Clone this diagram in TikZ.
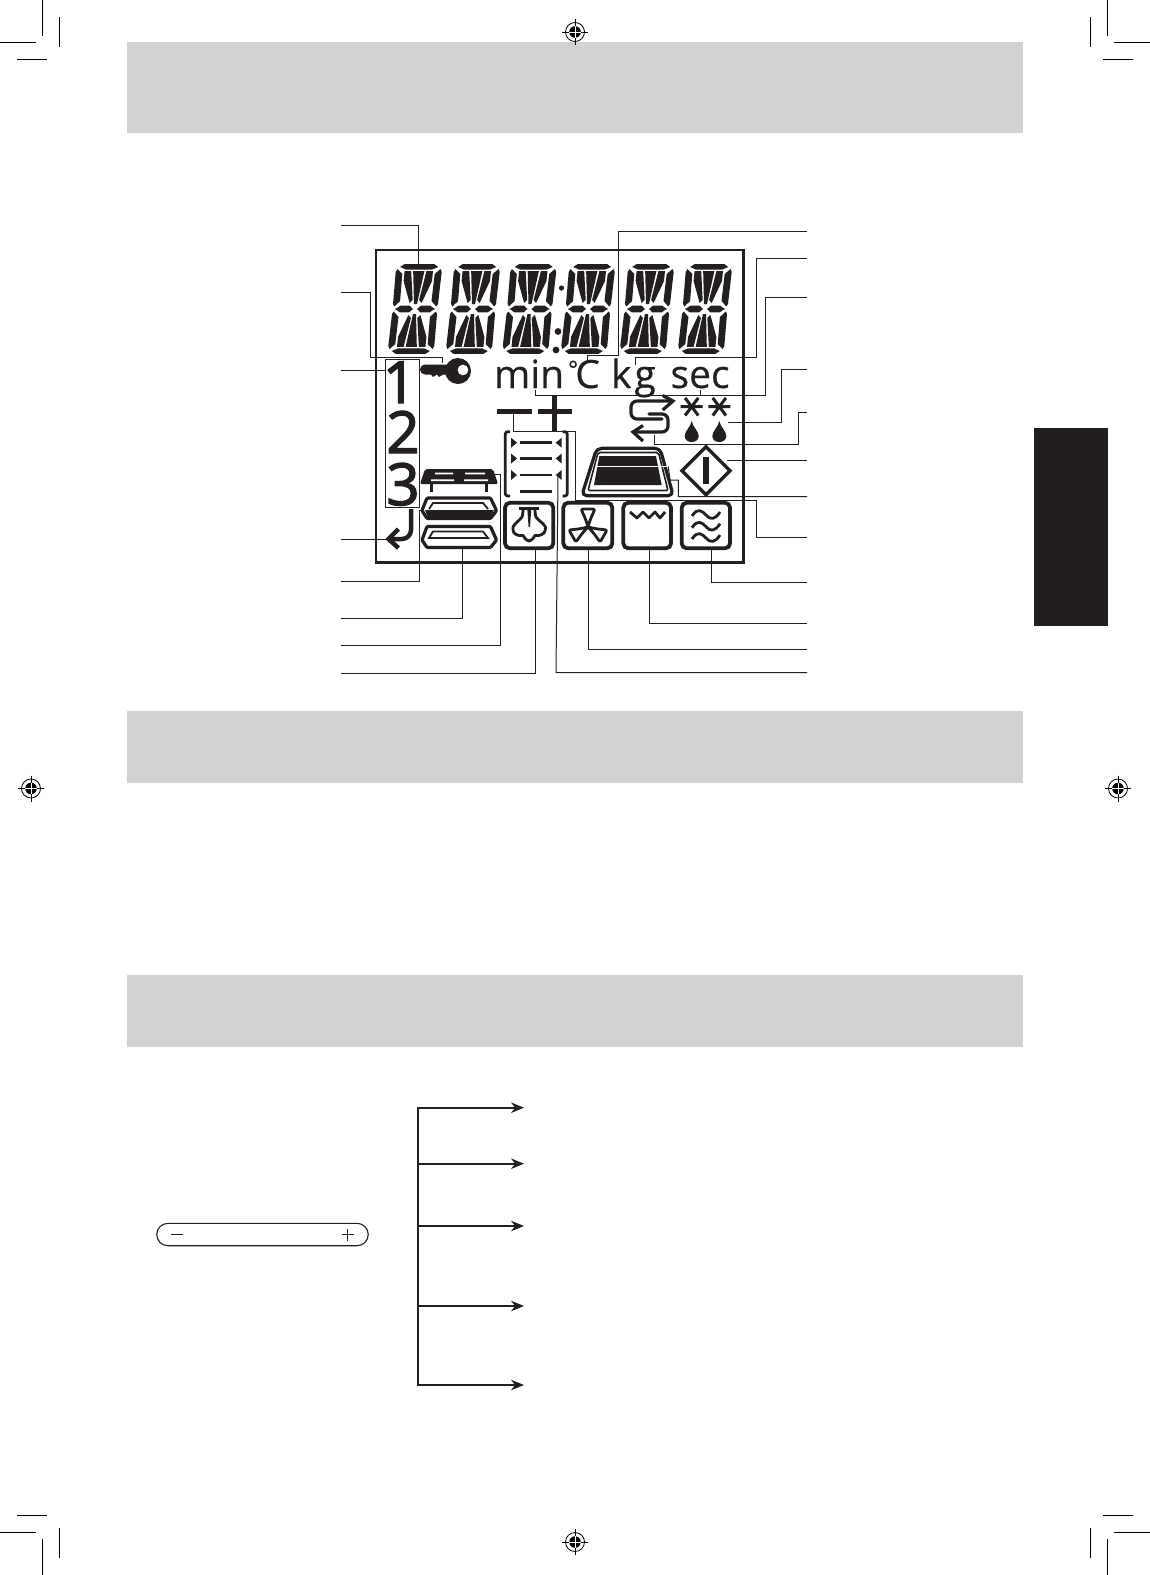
\documentclass[tikz,border=0pt]{standalone}
\usepackage{fontspec}
\setmainfont[FakeBold=0.35]{Open Sans}
\newfontfamily\numfont{Open Sans}[FakeBold=2.4]
\usetikzlibrary{arrows.meta,shapes.misc}
\definecolor{bandgrey}{HTML}{D2D2D2}
\definecolor{inkblk}{HTML}{231F20}
\tikzset{
  x=1pt,y=-1pt,
  band/.style={fill=bandgrey,draw=none},
  crop/.style={line width=1pt,draw=black},
  leader/.style={line width=1pt,draw=inkblk,line join=miter},
  icon/.style={line width=3.2pt,draw=inkblk,line join=round},
  thinicon/.style={line width=2.8pt,draw=inkblk,line join=round},
  roundbox/.style={line width=3.8pt,draw=inkblk,rounded corners=5pt},
  branch/.style={line width=1.8pt,draw=inkblk,-{Stealth[length=13pt,width=10.5pt]}},
  lcdlabel/.style={anchor=base west,inner sep=0pt,outer sep=0pt,text=inkblk,font=\fontsize{39}{39}\selectfont},
  lcdnum/.style={anchor=base,inner sep=0pt,outer sep=0pt,text=inkblk,font=\numfont\fontsize{58}{58}\selectfont},
}
\newcommand{\lcdquarter}{%
  \fill[inkblk] (-0.3,-44.8)--(15,-44.8)--(19,-42)--(13,-39.4)--(-0.3,-39.4)--cycle;
  \fill[inkblk] (21.5,-40)--(23,-37)--(22.5,-5)--(21,-2.5)--(15.7,-8)--(16.2,-35)--cycle;
  \fill[inkblk] (7.6,-37.8)--(14.2,-37.8)--(14.2,-28)--(6,-6)--(3.2,-9)--cycle;
  \fill[inkblk] (-0.3,-37.8)--(5.6,-37.8)--(1.5,-5)--(-0.3,-5)--cycle;
  \fill[inkblk] (20,0.3)--(15,-3.3)--(5.5,-3.3)--(2,0.3)--cycle;
}
\newcommand{\lcddigit}[1]{%
  \begin{scope}[shift={(415,309)},xshift=#1,xslant=0.1]
    \lcdquarter
    \begin{scope}[xscale=-1]\lcdquarter\end{scope}
    \begin{scope}[yscale=-1]\lcdquarter\end{scope}
    \begin{scope}[xscale=-1,yscale=-1]\lcdquarter\end{scope}
  \end{scope}}
\newcommand{\regmark}[2]{%
  \begin{scope}[shift={(#1,#2)}]
    \draw[line width=.8pt] (0,0) circle[radius=9.5];
    \fill (0,0) circle[radius=5.8];
    \draw[line width=.8pt] (-13,0)--(13,0) (0,-13)--(0,13);
    \draw[white,line width=.9pt] (-5.8,0)--(5.8,0) (0,-5.8)--(0,5.8);
  \end{scope}}
\newcommand{\fanblade}{%
  \draw[thinicon,rounded corners=2pt] (0,0)--(-2.5,-8)--(-7,-18)--(7,-18)--(2.5,-8)--cycle;}
\newcommand{\lcdwave}[1]{%
  \draw[thinicon] (692,#1+1) .. controls (698,#1-8) and (702,#1-4) .. (706,#1) .. controls (710,#1+5) and (715,#1+5) .. (720,#1-3);}
\newcommand{\lcdstar}[2]{%
  \begin{scope}[shift={(#1,#2)}]
    \draw[line width=3pt,draw=inkblk] (-11,0)--(11,0) (-6.6,-8.8)--(6.6,8.8) (6.6,-8.8)--(-6.6,8.8);
  \end{scope}}
\newcommand{\lcddrop}[2]{%
  \fill[inkblk] (#1,#2-12) .. controls (#1+1,#2-6) and (#1+7,#2-2) .. (#1+7,#2+3) .. controls (#1+7,#2+11) and (#1-7,#2+11) .. (#1-7,#2+3) .. controls (#1-7,#2-2) and (#1-1,#2-6) .. (#1,#2-12) -- cycle;}
\newcommand{\triright}[2]{\fill[inkblk] (#1,#2-5)--(#1+6,#2)--(#1,#2+5)--cycle;}
\newcommand{\trileft}[2]{\fill[inkblk] (#1,#2-5)--(#1-6,#2)--(#1,#2+5)--cycle;}
\begin{document}
\begin{tikzpicture}
\useasboundingbox (0,0) rectangle (1150,1575);
\fill[white] (0,0) rectangle (1150,1575);
% bands and tab
\fill[band] (127,42) rectangle (1023,133);
\fill[band] (127,711) rectangle (1023,782.5);
\fill[band] (127,974.5) rectangle (1023,1046.5);
\fill[inkblk] (1033.5,428) rectangle (1108,626);
% crop marks
\draw[crop] (42.5,0)--(42.5,36) (0,42.5)--(36,42.5) (59.5,17)--(59.5,47) (17,59.5)--(47,59.5);
\draw[crop] (1107.5,0)--(1107.5,36) (1150,42.5)--(1114,42.5) (1090.5,17)--(1090.5,47) (1133,59.5)--(1103,59.5);
\draw[crop] (42.5,1575)--(42.5,1539) (0,1532.5)--(36,1532.5) (59.5,1558)--(59.5,1528) (17,1515.5)--(47,1515.5);
\draw[crop] (1107.5,1575)--(1107.5,1539) (1150,1532.5)--(1114,1532.5) (1090.5,1558)--(1090.5,1528) (1133,1515.5)--(1103,1515.5);
\regmark{575}{32}\regmark{31}{788.5}\regmark{1118}{788.5}\regmark{575}{1542}
% LCD frame
\draw[line width=2.6pt,draw=inkblk] (376,250) rectangle (743.5,562.7);
% digits
\foreach \dd in {0pt,58pt,114.5pt,173pt,232pt,290pt}{\lcddigit{\dd}}
\fill[inkblk] (561.5,288) circle[radius=2.6] (558,331.5) circle[radius=3.4] (556,350) circle[radius=3.4];
% text
\node[lcdlabel] (tmin) at (494,388) {min};
\node[lcdlabel] (tc) at (568,388) {\raisebox{10pt}{\fontsize{24}{24}\selectfont °}\kern-3pt C};
\node[lcdlabel] (tkg) at (611,388) {k\kern3pt g};
\node[lcdlabel] (tsec) at (670.5,388) {sec};
\node[lcdnum] (n1) at (399.5,403) {1};
\node[lcdnum] (n2) at (403,453) {2};
\node[lcdnum] (n3) at (403,505) {3};
\draw[leader] (385.5,359.3) rectangle (419.3,507.3);
% key
\fill[inkblk,even odd rule] (458,371) circle[radius=13] (463,370) circle[radius=5.5];
\fill[inkblk] (447,364.5)--(425,364.5) arc[start angle=270,end angle=90,radius=5] --(431,374.5)--(433,377)--(437,374.5)--(439,377)--(443,374.5)--(447,374.5)--cycle;
% return arrow
\draw[line width=4.5pt,draw=inkblk,rounded corners=9pt] (411,509)--(411,539)--(391,539);
\draw[line width=4.5pt,draw=inkblk,line join=miter] (398.5,529)--(388.5,539)--(398.5,548);
% tray A
\fill[inkblk,rounded corners=2pt] (425,469)--(493,469)--(498,484)--(420,484)--cycle;
\fill[white] (435,472.5) rectangle (453,474.3) (465,472.5) rectangle (485,474.3) (431,479.3) rectangle (454,481) (464,479.3) rectangle (488,481);
\draw[line width=2.6pt,draw=inkblk] (431.7,484)--(431.7,492) (486.7,484)--(486.7,492);
% tray B
\draw[icon,rounded corners=1pt] (427,498)--(490.5,498)--(496.5,510.5)--(490.5,518.5)--(427,518.5)--(422,510.5)--cycle;
\fill[inkblk] (425,510)--(494,510)--(490,518)--(428,518)--cycle;
\draw[line width=1.8pt,draw=inkblk] (429,509)--(433,503)--(483,503)--(488,509);
% tray C
\draw[icon,rounded corners=1pt] (427,526.5)--(490.5,526.5)--(496.5,540)--(490.5,547.5)--(427,547.5)--(422,540)--cycle;
\draw[line width=1.8pt,draw=inkblk] (429,538)--(433,531.5)--(483,531.5)--(488,538)--cycle;
% minus plus
\draw[line width=4.6pt,draw=inkblk] (496.7,411.7)--(531.7,411.7) (538,411.7)--(572,411.7) (554.3,395)--(554.3,431);
% bracket
\draw[thinicon,rounded corners=2.5pt] (510,431.7)--(505.2,431.7)--(505.2,496)--(510,496);
\draw[thinicon,rounded corners=2.5pt] (562.5,431.7)--(567.3,431.7)--(567.3,496)--(562.5,496);
\draw[line width=3.4pt,draw=inkblk] (520,442.7)--(551.7,442.7) (520,458.5)--(551.7,458.5) (520,491.7)--(551.7,491.7);
\draw[line width=2.6pt,draw=inkblk] (520,475)--(551.7,475);
\foreach \yy in {442.7,458.5,475}{\triright{511}{\yy}\trileft{561.7}{\yy}}
% function boxes
\draw[roundbox] (505,502.7) rectangle (553.3,548.3);
\draw[roundbox] (563.3,502.7) rectangle (612.3,548.3);
\draw[roundbox] (623.3,502.7) rectangle (671,548.3);
\draw[roundbox] (681.7,502.7) rectangle (730,548.3);
% hood
\draw[line width=2.8pt,draw=inkblk] (519.3,508.5)--(539.3,508.5);
\fill[inkblk] (527.3,509)--(531.3,509)--(530,527)--(528.6,527)--cycle;
\draw[thinicon] plot[smooth,tension=.5] coordinates {(523,510) (522,517) (517,522) (513,527) (514,533) (519,535.5) (523,535.5) (525,538.5) (529,541) (533,538.5) (535,535.5) (539,535.5) (544,533) (545.5,527) (541,522) (536,517) (535,510)};
% fan
\begin{scope}[shift={(588,527)}]
  \fanblade
  \begin{scope}[rotate=120]\fanblade\end{scope}
  \begin{scope}[rotate=240]\fanblade\end{scope}
\end{scope}
% heater
\draw[thinicon] (630,512)--(637,518)--(643,512)--(649,518)--(655,512)--(660,518)--(665,512);
% waves
\lcdwave{515}\lcdwave{526.7}\lcdwave{538}
% diamond
\draw[line width=3.4pt,draw=inkblk,line join=miter] (706,446.7)--(730,470.7)--(706,494.7)--(682,470.7)--cycle;
\fill[inkblk] (703.2,457.3) rectangle (709,484.3);
% oven
\draw[icon,rounded corners=5pt] (596.7,448.3)--(660,448.3)--(673.3,495.7)--(581.7,495.7)--cycle;
\draw[line width=1.6pt,draw=inkblk,rounded corners=2pt] (598,452.5)--(658.5,452.5)--(668,490.5)--(588,490.5)--cycle;
\fill[inkblk] (599.3,456)--(656,456)--(661.7,485)--(594,485)--cycle;
% snake arrows
\draw[icon,rounded corners=6pt,line cap=round] (670,401)--(631,401)--(631,419)--(662,419);
\draw[icon,rounded corners=6pt,line cap=round] (649,414)--(668,414)--(668,432)--(634,432);
\draw[icon,line join=miter] (662.7,395.5)--(673,401)--(662.7,410);
\draw[icon,line join=miter] (643,425.5)--(633,432)--(643,441);
% stars and drops
\lcdstar{691.7}{406.7}\lcdstar{719.3}{406.7}
\lcddrop{691.7}{433}\lcddrop{719.3}{433}
% leaders, left
\coordinate (l1) at (341,225.7); \coordinate (l2) at (341,292.3); \coordinate (l3) at (341,370);
\coordinate (l4) at (341,539.3); \coordinate (l5) at (341,581.7); \coordinate (l6) at (341,618);
\coordinate (l7) at (341,645); \coordinate (l8) at (341,673.3);
\draw[leader] (l1)--(418.3,225.7)--(418.3,264.5);
\draw[leader] (l2)--(370,292.3)--(370,357)--(442.3,357)--(442.3,363);
\draw[leader] (l3)--(385.5,370);
\draw[leader] (l4)--(388,539.3);
\draw[leader] (l5)--(419.3,581.7)--(419.3,510.7)--(423,510.7);
\draw[leader] (l6)--(462,618)--(462,548);
\draw[leader] (l7)--(500.7,645)--(500.7,474)--(495,474);
\draw[leader] (l8)--(535,673.3)--(535,549);
% leaders, right
\coordinate (r1) at (807,231.7); \coordinate (r2) at (807,258.3); \coordinate (r3) at (807,297.7);
\coordinate (r4) at (807,369); \coordinate (r5) at (807,412.3); \coordinate (r6) at (807,460.7);
\coordinate (r7) at (807,496.7); \coordinate (r8) at (807,537.7); \coordinate (r9) at (807,582);
\coordinate (r10) at (807,623); \coordinate (r11) at (807,649.3); \coordinate (r12) at (807,672.7);
\draw[leader] (r1)--(618.3,231.7)--(618.3,355)--(587.3,355)--(587.3,363);
\draw[leader] (r2)--(756.7,258.3)--(756.7,357.7)--(635.7,357.7)--(635.7,365);
\draw[leader] (r3)--(765,297.7)--(765,395)--(535,395)--(535,390);
\draw[leader] (700,395)--(700,390);
\draw[leader] (r4)--(781.7,369)--(781.7,422.3)--(728.3,422.3);
\draw[leader] (r5)--(798.7,412.3)--(798.7,444.3)--(654.3,444.3)--(654.3,435);
\draw[leader] (r6)--(726.7,460.7);
\draw[leader] (r7)--(678.3,496.7)--(678.3,480)--(670,480)--(668.3,466.5);
\draw[white,line width=1pt] (668.3,466.5)--(596,466.5);
\draw[leader] (r8)--(756,537.7)--(756,500.3)--(575,500.3)--(575,431)--(513,431)--(513,411.7);
\draw[leader] (r9)--(711.7,582)--(711.7,549);
\draw[leader] (r10)--(649,623)--(649,549);
\draw[leader] (r11)--(588.3,649.3)--(588.3,549);
\draw[leader] (r12)--(556,672.7)--(558,476.5);
% control bar
\node[rounded rectangle,draw=inkblk,line width=1.1pt,minimum width=211.5pt,minimum height=22.4pt,inner sep=0pt] (bar) at (262.5,1234.5) {};
\draw[line width=1pt,draw=inkblk] (171,1234.5)--(183,1234.5) (341.7,1234.5)--(353.7,1234.5) (347.7,1228.5)--(347.7,1240.5);
% distributor
\coordinate (s1) at (418.3,1107.7); \coordinate (s2) at (418.3,1163.7); \coordinate (s3) at (418.3,1226);
\coordinate (s4) at (418.3,1306); \coordinate (s5) at (418.3,1385);
\coordinate (e1) at (524,1107.7); \coordinate (e2) at (524,1163.7); \coordinate (e3) at (524,1226);
\coordinate (e4) at (524,1306); \coordinate (e5) at (524,1385);
\draw[line width=2pt,draw=inkblk,line cap=rect] (s1)--(s5);
\foreach \i in {1,...,5}{\draw[branch] (s\i)--(e\i);}
\end{tikzpicture}
\end{document}
